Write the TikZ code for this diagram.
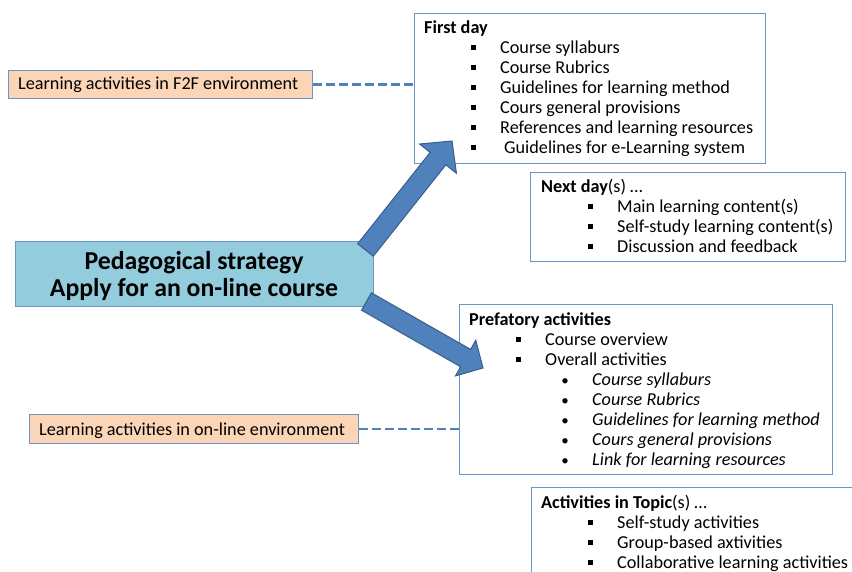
\documentclass[tikz,border=0pt]{standalone}
\usepackage{fontspec}
\setmainfont{Carlito}
\usetikzlibrary{calc}
\definecolor{boxline}{HTML}{6E93C8}
\definecolor{mainfill}{HTML}{93CDDD}
\definecolor{orfill}{HTML}{FBD5B5}
\definecolor{arrfill}{HTML}{4F81BD}
\definecolor{arrline}{HTML}{385D8A}
\definecolor{dashcol}{HTML}{4F81BD}
\newcommand{\sqb}{\rule[0.16em]{5.5pt}{5.5pt}}
\newcommand{\sqitem}{\llap{\sqb\hspace*{24pt}}}
\newcommand{\rditem}{\llap{\makebox[6pt]{\fontsize{15}{15}\selectfont\textbullet}\hspace*{24pt}}}
\tikzset{
  x=1pt, y=-1pt,
  box/.style={draw=boxline, line width=1.2pt, fill=white, inner sep=0, anchor=north west},
  txt/.style={inner sep=0, anchor=base west, font=\fontsize{18.2}{20}\selectfont},
  maintxt/.style={inner sep=0, anchor=base, font=\bfseries\fontsize{25.8}{27}\selectfont},
  dashline/.style={draw=dashcol, line width=2.6pt, dash pattern=on 9pt off 4pt},
  blockarrow/.style={fill=arrfill, draw=arrline, line width=1pt, line join=miter}
}
\begin{document}
\begin{tikzpicture}
\useasboundingbox (0,0) rectangle (852,571);
\clip (0,0) rectangle (852,571);
% boxes
\node[box, fill=orfill, minimum width=304, minimum height=28] (f2f) at (8,70) {};
\node[box, minimum width=351, minimum height=150] (first) at (414,13) {};
\node[box, minimum width=315, minimum height=89] (next) at (530,172) {};
\node[box, fill=mainfill, minimum width=358, minimum height=65] (main) at (15,241) {};
\node[box, minimum width=373, minimum height=170] (pref) at (459,304) {};
\node[box, fill=orfill, minimum width=329, minimum height=29] (online) at (29,414) {};
\node[box, minimum width=340, minimum height=100] (topic) at (531,487) {};
% dashed connectors
\draw[dashline] (f2f.east) -- (f2f.east -| first.west);
\draw[dashline] (online.east) -- (online.east -| pref.west);
% block arrows
\coordinate (a1t) at (365.5,250);
\coordinate (a1h) at (452,141);
\coordinate (a1b) at ($(a1h)!22.5pt!(a1t)$);
\fill[blockarrow] ($(a1t)!10pt!90:(a1h)$) -- ($(a1b)!10pt!-90:(a1t)$) -- ($(a1b)!23.5pt!-90:(a1t)$) -- (a1h)
  -- ($(a1b)!23.5pt!90:(a1t)$) -- ($(a1b)!10pt!90:(a1t)$) -- ($(a1t)!10pt!-90:(a1h)$) -- cycle;
\coordinate (a2t) at (366.5,301.5);
\coordinate (a2h) at (483,368);
\coordinate (a2b) at ($(a2h)!20pt!(a2t)$);
\fill[blockarrow] ($(a2t)!10pt!90:(a2h)$) -- ($(a2b)!10pt!-90:(a2t)$) -- ($(a2b)!20.5pt!-90:(a2t)$) -- (a2h)
  -- ($(a2b)!20.5pt!90:(a2t)$) -- ($(a2b)!10pt!90:(a2t)$) -- ($(a2t)!10pt!-90:(a2h)$) -- cycle;
% texts
\node[txt] (f2ft) at (18,89) {Learning activities in F2F environment};
\node[txt] (onlinet) at (39,435) {Learning activities in on-line environment};
\node[maintxt] (m1) at (194,269) {Pedagogical strategy};
\node[maintxt] (m2) at (194,296) {Apply for an on-line course};
% First day
\node[txt] (fdh) at (424,33) {\textbf{First day}};
\foreach \t [count=\i] in {Course syllaburs, Course Rubrics, Guidelines for learning method, Cours general provisions, References and learning resources}
  \node[txt, name=fd\i] at (500,33+20*\i) {\sqitem\t};
\node[txt] (fd6) at (500,153) {\sqitem\hspace*{4pt}Guidelines for e-Learning system};
% Next day
\node[txt] (ndh) at (541,192) {\textbf{Next day}(s) \dots};
\foreach \t [count=\i] in {Main learning content(s), Self-study learning content(s), Discussion and feedback}
  \node[txt, name=nd\i] at (617,192+20*\i) {\sqitem\t};
% Prefatory
\node[txt] (pah) at (469,325) {\textbf{Prefatory activities}};
\node[txt] (pa1) at (545,345) {\sqitem Course overview};
\node[txt] (pa2) at (545,365) {\sqitem Overall activities};
\foreach \t [count=\i] in {Course syllaburs, Course Rubrics, Guidelines for learning method, Cours general provisions, Link for learning resources}
  \node[txt, name=pb\i] at (592,365+20*\i) {\rditem\textit{\t}};
% Activities in topic
\node[txt] (ath) at (541,508) {\textbf{Activities in Topic}(s) \dots};
\foreach \t [count=\i] in {Self-study activities, Group-based axtivities, Collaborative learning activities}
  \node[txt, name=at\i] at (617,508+20*\i) {\sqitem\t};
\end{tikzpicture}
\end{document}
